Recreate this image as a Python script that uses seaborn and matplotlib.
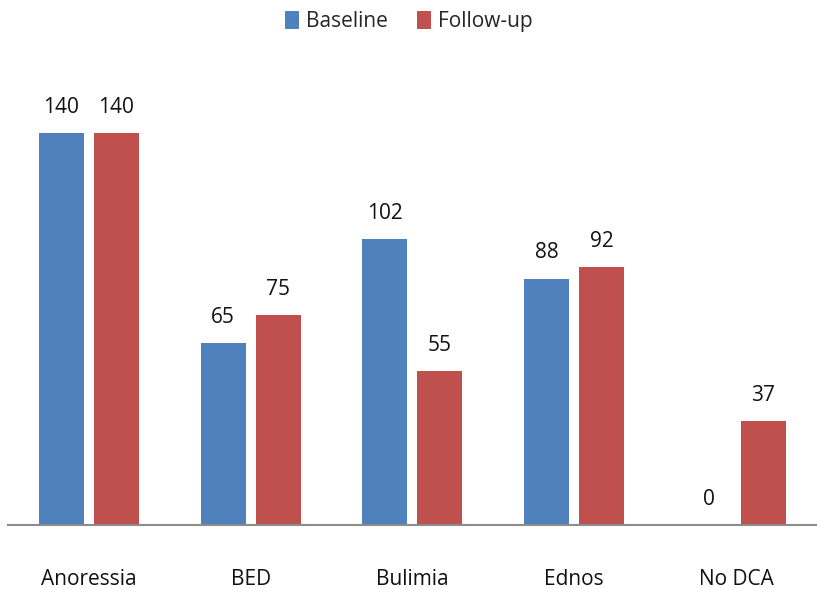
import pandas as pd
import matplotlib.pyplot as plt
import seaborn as sns

categories = ["Anoressia", "BED", "Bulimia", "Ednos", "No DCA"]
baseline = [140, 65, 102, 88, 0]
follow_up = [140, 75, 55, 92, 37]
series = ["Baseline", "Follow-up"]
colors = ["#4F81BD", "#C0504D"]

df = pd.DataFrame({
    "category": categories * 2,
    "value": baseline + follow_up,
    "series": [series[0]] * len(categories) + [series[1]] * len(categories),
})

sns.set_theme(style="white")
plt.rcParams["font.family"] = ["Liberation Sans Narrow", "Open Sans", "DejaVu Sans"]

fig = plt.figure(figsize=(8.17, 5.89), dpi=100)
ax = fig.add_axes([0.0098, 0.1087, 0.99, 0.7606])

sns.barplot(data=df, x="category", y="value", hue="series", palette=colors,
            width=0.68, gap=0.18, saturation=1, linewidth=0, ax=ax)

for c in ax.containers:
    ax.bar_label(c, padding=11, fontsize=15, color="#111111")

ax.set_ylim(0, 160)
ax.set_xlim(-0.5, 4.5)
ax.set_xlabel("")
ax.set_ylabel("")
ax.set_yticks([])
ax.tick_params(axis="x", length=0, pad=32, labelsize=15, labelcolor="#111111")
for s in ["top", "right", "left"]:
    ax.spines[s].set_visible(False)
ax.spines["bottom"].set_color("#8c8c8c")
ax.spines["bottom"].set_linewidth(1.5)

handles, labels = ax.get_legend_handles_labels()
ax.get_legend().remove()
fig.legend(handles, labels, loc="upper center", bbox_to_anchor=(0.5, 1.014), ncol=2,
           frameon=False, fontsize=15, handlelength=0.7, handleheight=1.0,
           handletextpad=0.3, columnspacing=1.4)

fig.savefig("out.png", dpi=100)
